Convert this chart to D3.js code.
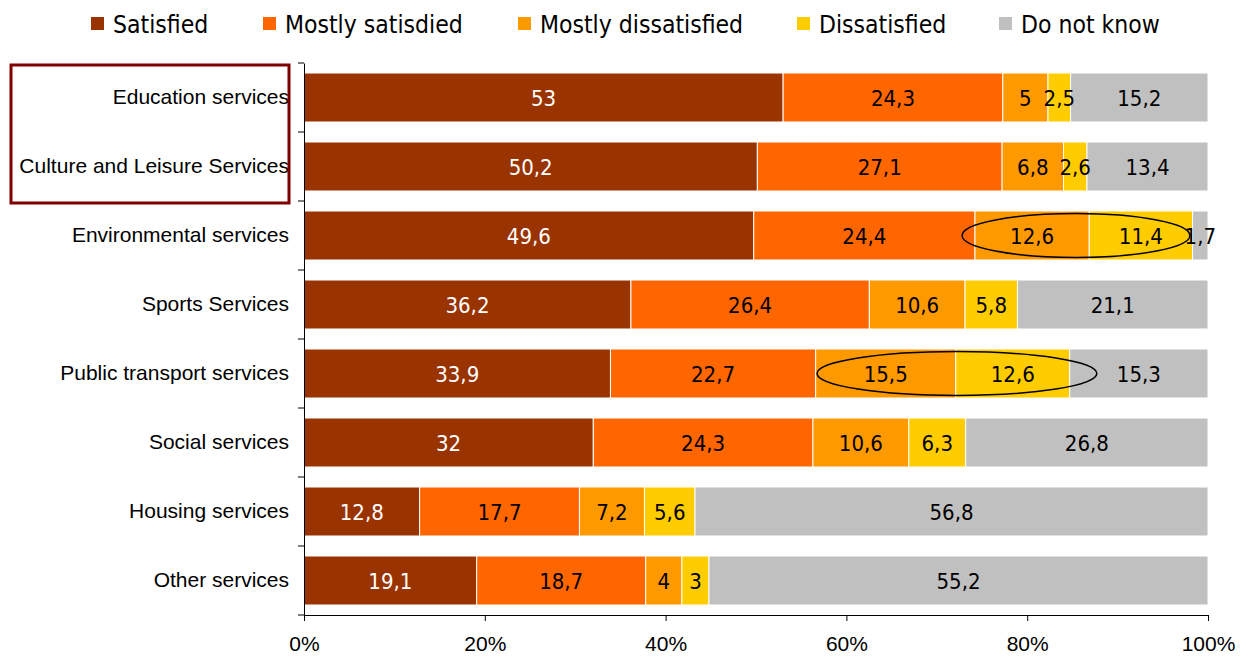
<!DOCTYPE html>
<html>
<head>
<meta charset="utf-8">
<script src="https://cdn.jsdelivr.net/npm/d3@7"></script>
<style>
  body { margin: 0; background: #fff; }
  svg { font-family: "DejaVu Sans Condensed", "DejaVu Sans", sans-serif; }
</style>
</head>
<body>
<svg id="fig" width="1244" height="658"></svg>
<script>
const categories = ['Education services', 'Culture and Leisure Services', 'Environmental services',
    'Sports Services', 'Public transport services', 'Social services', 'Housing services', 'Other services'];
const seriesNames = ['Satisfied', 'Mostly satisdied', 'Mostly dissatisfied', 'Dissatisfied', 'Do not know'];
const satisfied = [53, 50.2, 49.6, 36.2, 33.9, 32, 12.8, 19.1];
const mostlySatisfied = [24.3, 27.1, 24.4, 26.4, 22.7, 24.3, 17.7, 18.7];
const mostlyDissatisfied = [5, 6.8, 12.6, 10.6, 15.5, 10.6, 7.2, 4];
const dissatisfied = [2.5, 2.6, 11.4, 5.8, 12.6, 6.3, 5.6, 3];
const doNotKnow = [15.2, 13.4, 1.7, 21.1, 15.3, 26.8, 56.8, 55.2];
const xTicks = [0, 0.2, 0.4, 0.6, 0.8, 1];
// hand drawn ellipses: row and horizontal span (share of the axis)
const circled = ['Environmental services', 'Public transport services'];
const circledSpan = [[0.728, 0.980], [0.5675, 0.877]];

const colors = ['#993300', '#ff6600', '#ff9900', '#ffcc00', '#c0c0c0'];
const textColors = ['#fff', '#000', '#000', '#000', '#000'];

const series = [satisfied, mostlySatisfied, mostlyDissatisfied, dissatisfied, doNotKnow];
const rows = categories.map((c, i) => {
    const r = { category: c };
    seriesNames.forEach((s, j) => { r[s] = series[j][i]; });
    return r;
});

const svg = d3.select('#fig');
const margin = { top: 63, left: 304, right: 36, bottom: 43 };
const width = 1244, height = 658;

const x = d3.scaleLinear().domain([0, 1]).range([margin.left, width - margin.right]);
const y = d3.scaleBand().domain(categories)
    .range([margin.top, height - margin.bottom])
    .paddingInner(0.29).paddingOuter(0.145);

const stack = d3.stack().keys(seriesNames).offset(d3.stackOffsetExpand);
const stacked = stack(rows);

// bars
const layers = svg.append('g').selectAll('g').data(stacked).enter().append('g')
    .attr('fill', (d, i) => colors[i]);
layers.selectAll('rect').data(d => d).enter().append('rect')
    .attr('x', d => x(d[0]))
    .attr('y', d => y(d.data.category))
    .attr('width', d => x(d[1]) - x(d[0]))
    .attr('height', y.bandwidth())
    .attr('stroke', '#fff')
    .attr('stroke-width', 1);

// value labels
stacked.forEach((layer, i) => {
    svg.append('g').selectAll('text').data(layer).enter().append('text')
        .attr('x', d => (x(d[0]) + x(d[1])) / 2)
        .attr('y', d => y(d.data.category) + y.bandwidth() / 2 + 1)
        .attr('dy', '0.35em')
        .attr('text-anchor', 'middle')
        .attr('font-size', 22)
        .attr('fill', textColors[i])
        .text(d => String(d.data[layer.key]).replace('.', ','));
});

// ellipses
circled.forEach((c, i) => {
    const x0 = x(circledSpan[i][0]), x1 = x(circledSpan[i][1]);
    svg.append('ellipse')
        .attr('cx', (x0 + x1) / 2)
        .attr('cy', y(c) + y.bandwidth() / 2)
        .attr('rx', (x1 - x0) / 2)
        .attr('ry', 22)
        .attr('fill', 'none')
        .attr('stroke', '#000')
        .attr('stroke-width', 1.5);
});

// y axis
const yAxis = svg.append('g')
    .attr('transform', `translate(${margin.left},0)`)
    .call(d3.axisLeft(y).tickSize(0).tickPadding(15));
yAxis.select('.domain').attr('stroke', '#000');
yAxis.selectAll('text').attr('font-size', 21).attr('fill', '#000').attr('font-family', null);
const boundaries = categories.map(c => y(c) - y.step() * y.paddingInner() / 2)
    .concat([height - margin.bottom]);
svg.append('g').selectAll('line').data(boundaries).enter().append('line')
    .attr('x1', margin.left - 6).attr('x2', margin.left)
    .attr('y1', d => d).attr('y2', d => d)
    .attr('stroke', '#000');

// x axis
const xAxis = svg.append('g')
    .attr('transform', `translate(0,${height - margin.bottom})`)
    .call(d3.axisBottom(x).tickValues(xTicks).tickFormat(d3.format('.0%')).tickSize(6).tickPadding(15));
xAxis.select('.domain').attr('stroke', '#000');
xAxis.selectAll('line').attr('stroke', '#000');
xAxis.selectAll('text').attr('font-size', 21).attr('fill', '#000')
    .attr('font-family', '"Liberation Sans", Arial, sans-serif');

// highlight box around first two labels
svg.append('rect')
    .attr('x', 11).attr('y', y(categories[0]) - y.step() * y.paddingInner() / 2 + 2)
    .attr('width', 278)
    .attr('height', y.step() * 2)
    .attr('fill', 'none')
    .attr('stroke', '#800000')
    .attr('stroke-width', 3);

// legend
const legendX = [91, 263, 518, 797, 999];
const legend = svg.append('g').selectAll('g').data(seriesNames).enter().append('g')
    .attr('transform', (d, i) => `translate(${legendX[i]},17)`);
legend.append('rect').attr('width', 13).attr('height', 13).attr('fill', (d, i) => colors[i]);
legend.append('text').attr('x', 22).attr('y', 7).attr('dy', '0.35em')
    .attr('font-size', 24.5).text(d => d);
</script>
</body>
</html>
